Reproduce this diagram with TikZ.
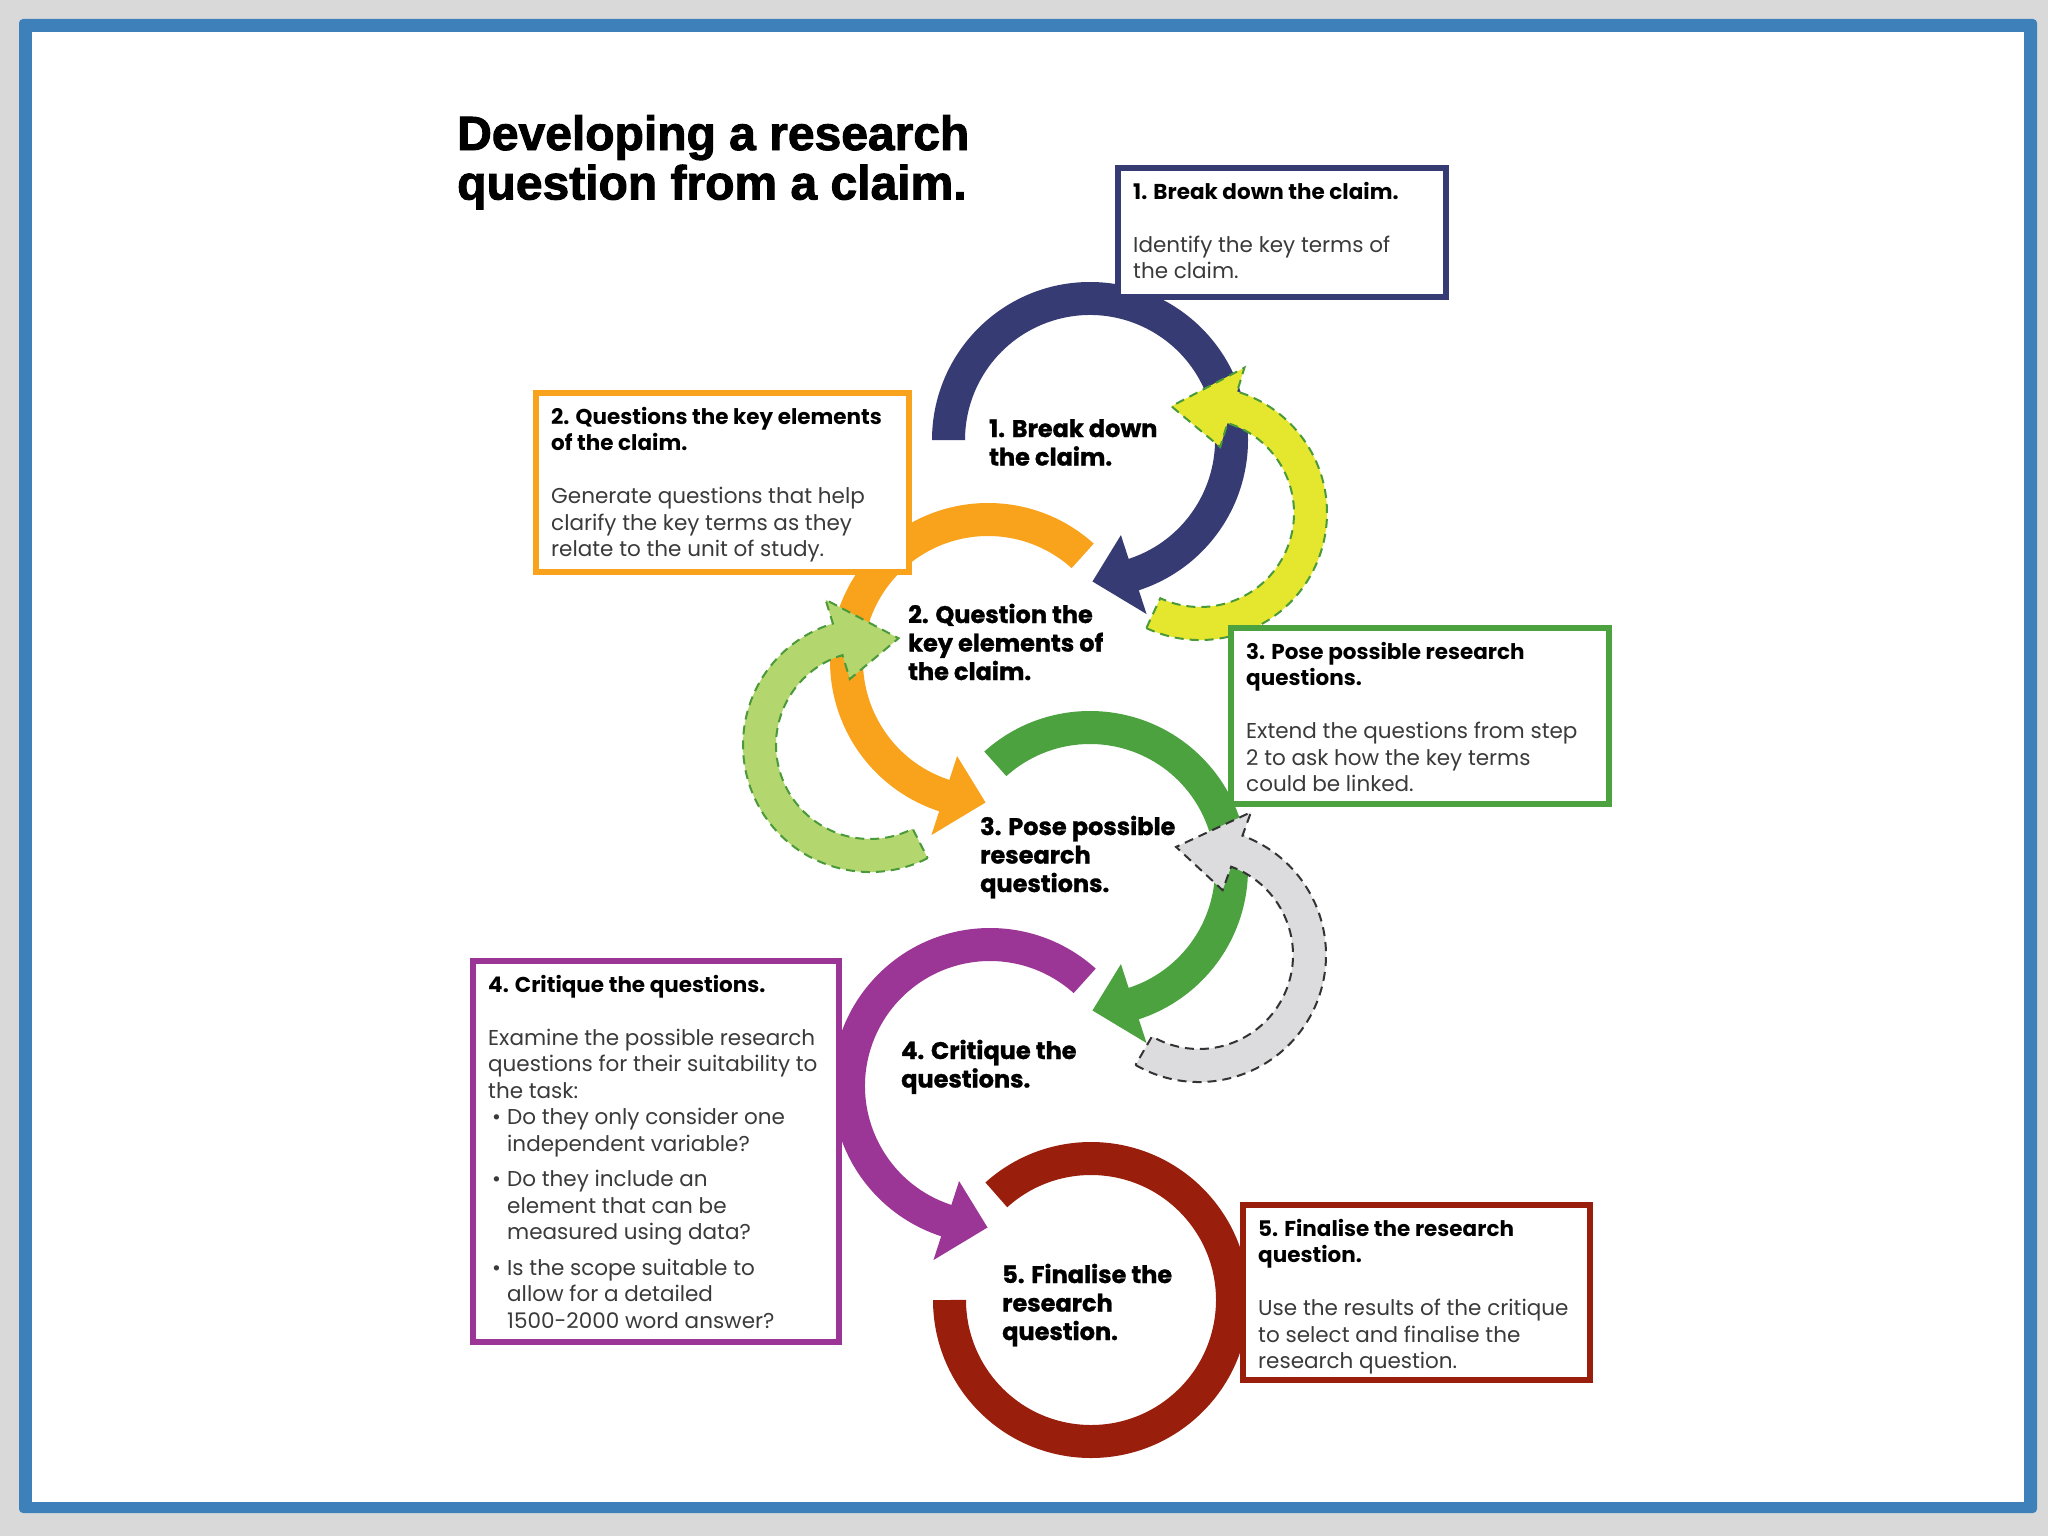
\documentclass[tikz,border=0pt]{standalone}
\usepackage{fontspec}
\setmainfont{Poppins}
\newfontfamily\labelfont{Poppins}[BoldFeatures={FakeBold=1.2}]
\newfontfamily\headfont{Liberation Sans}[BoldFeatures={FakeBold=2}]
\usepackage{tikz}
\usetikzlibrary{calc,positioning}

\definecolor{bgc}{HTML}{D9D9D9}
\definecolor{framec}{HTML}{3E80BA}
\definecolor{navyc}{HTML}{363B73}
\definecolor{orangec}{HTML}{F9A21B}
\definecolor{greenc}{HTML}{4BA23F}
\definecolor{purplec}{HTML}{9C3696}
\definecolor{redc}{HTML}{9A1E0C}
\definecolor{yellowc}{HTML}{E4E72E}
\definecolor{limec}{HTML}{B3D66F}
\definecolor{greyc}{HTML}{DCDCDE}
\definecolor{dashgreen}{HTML}{4A9A3A}
\definecolor{inkc}{HTML}{3A3A3A}

% bent arrow: style, centre, start angle, end angle, inner r, outer r, tip angle
\newcommand{\bentarrow}[7]{%
  \pgfmathsetmacro{\rmid}{(#5+#6)/2}%
  \pgfmathsetmacro{\rlo}{#5-25}%
  \pgfmathsetmacro{\rhi}{#6+25}%
  \path[#1] ($(#2)+(#3:#6)$) arc[start angle=#3, end angle=#4, radius=#6]
    -- ($(#2)+(#4:\rhi)$) -- ($(#2)+(#7:\rmid)$) -- ($(#2)+(#4:\rlo)$)
    -- ($(#2)+(#4:#5)$) arc[start angle=#4, end angle=#3, radius=#5] -- cycle;
}
% lines hung from the baseline of the first one
\newcommand{\lines}[1]{\begin{tabular}[t]{@{}l@{}}#1\end{tabular}}

\begin{document}
\begin{tikzpicture}[
  x=1pt, y=1pt,
  card/.style={draw, fill=white, line width=6, inner sep=0, outer sep=0, anchor=north west},
  cardtext/.style={anchor=base west, inner sep=0, text=inkc,
    font=\fontsize{21.5}{26.5}\selectfont},
  steplabel/.style={anchor=base west, inner sep=0,
    font=\labelfont\fontsize{24}{28.5}\selectfont\bfseries},
  loopback/.style={line width=2, dash pattern=on 9pt off 6pt}
]
\useasboundingbox (0,0) rectangle (2048,-1536);
\fill[bgc] (0,0) rectangle (2048,-1536);
\fill[framec, rounded corners=4] (19,-19) rectangle (2037,-1513);
\fill[white] (32,-32) rectangle (2024,-1502);

% circle centres
\coordinate (c1) at (1090,-440);
\coordinate (c2) at (988,-661);
\coordinate (c3) at (1090,-869);
\coordinate (c4) at (990,-1086);
\coordinate (c5) at (1091,-1300);
\coordinate (f1) at (1200,-513);
\coordinate (f2) at (870,-745);
\coordinate (f3) at (1199,-955);

% main steps
\bentarrow{fill=navyc}{c1}{180}{-72}{125}{158}{-89}
\bentarrow{fill=orangec}{c2}{48}{252}{125}{158}{269}
\bentarrow{fill=greenc}{c3}{132}{-72}{125}{158}{-89}
\bentarrow{fill=purplec}{c4}{48}{252}{125}{158}{269}
\draw[redc, line width=33] ($(c5)+(132:141.5)$) arc[start angle=132, end angle=-180, radius=141.5];

% loop backs
\bentarrow{fill=yellowc, draw=dashgreen, loopback}{f1}{-115}{73}{94}{127}{105}
\bentarrow{fill=limec, draw=dashgreen, loopback}{f2}{-63}{-253}{94}{127}{-285}
\bentarrow{fill=greyc, draw=black!80, loopback}{f3}{-120}{70}{94}{127}{102}

% side boxes
\node[card, draw=navyc, minimum width=328, minimum height=129] (box1) at (1118,-168) {};
\node[card, draw=orangec, minimum width=373, minimum height=179] (box2) at (536,-393) {};
\node[card, draw=greenc, minimum width=378, minimum height=176] (box3) at (1231,-628) {};
\node[card, draw=purplec, minimum width=366, minimum height=381] (box4) at (473,-961) {};
\node[card, draw=redc, minimum width=347, minimum height=175] (box5) at (1243,-1205) {};

\node[cardtext] (txt1) at ([shift={(15,-31)}]box1.north west) {\lines{%
  \textcolor{black}{\textbf{1. Break down the claim.}}\\[26.5pt]
  Identify the key terms of\\the claim.}};
\node[cardtext] (txt2) at ([shift={(15,-31)}]box2.north west) {\lines{%
  \textcolor{black}{\textbf{2. Questions the key elements}}\\
  \textcolor{black}{\textbf{of the claim.}}\\[26.5pt]
  Generate questions that help\\clarify the key terms as they\\relate to the unit of study.}};
\node[cardtext] (txt3) at ([shift={(15,-31)}]box3.north west) {\lines{%
  \textcolor{black}{\textbf{3. Pose possible research}}\\
  \textcolor{black}{\textbf{questions.}}\\[26.5pt]
  Extend the questions from step\\2 to ask how the key terms\\could be linked.}};
\node[cardtext] (txt4) at ([shift={(15,-31)}]box4.north west) {\lines{%
  \textcolor{black}{\textbf{4. Critique the questions.}}\\[26.5pt]
  Examine the possible research\\questions for their suitability to\\the task:\\
  \makebox[19pt][l]{\hspace{4pt}\textbullet}Do they only consider one\\
  \hspace*{19pt}independent variable?\\[9pt]
  \makebox[19pt][l]{\hspace{4pt}\textbullet}Do they include an\\
  \hspace*{19pt}element that can be\\
  \hspace*{19pt}measured using data?\\[9pt]
  \makebox[19pt][l]{\hspace{4pt}\textbullet}Is the scope suitable to\\
  \hspace*{19pt}allow for a detailed\\
  \hspace*{19pt}1500-2000 word answer?}};
\node[cardtext] (txt5) at ([shift={(15,-31)}]box5.north west) {\lines{%
  \textcolor{black}{\textbf{5. Finalise the research}}\\
  \textcolor{black}{\textbf{question.}}\\[26.5pt]
  Use the results of the critique\\to select and finalise the\\research question.}};

% labels inside the circles
\node[steplabel] (lab1) at ($(c1)+(-101,3)$) {\lines{1. Break down\\the claim.}};
\node[steplabel] (lab2) at ($(c2)+(-80,38)$) {\lines{2. Question the\\key elements of\\the claim.}};
\node[steplabel] (lab3) at ($(c3)+(-110,34)$) {\lines{3. Pose possible\\research\\questions.}};
\node[steplabel] (lab4) at ($(c4)+(-89,27)$) {\lines{4. Critique the\\questions.}};
\node[steplabel] (lab5) at ($(c5)+(-89,17)$) {\lines{5. Finalise the\\research\\question.}};

\node[anchor=base west, inner sep=0,
  font=\headfont\fontsize{48}{49}\selectfont\bfseries] (title) at (457,-150)
  {\lines{Developing a research\\question from a claim.}};
\end{tikzpicture}
\end{document}
